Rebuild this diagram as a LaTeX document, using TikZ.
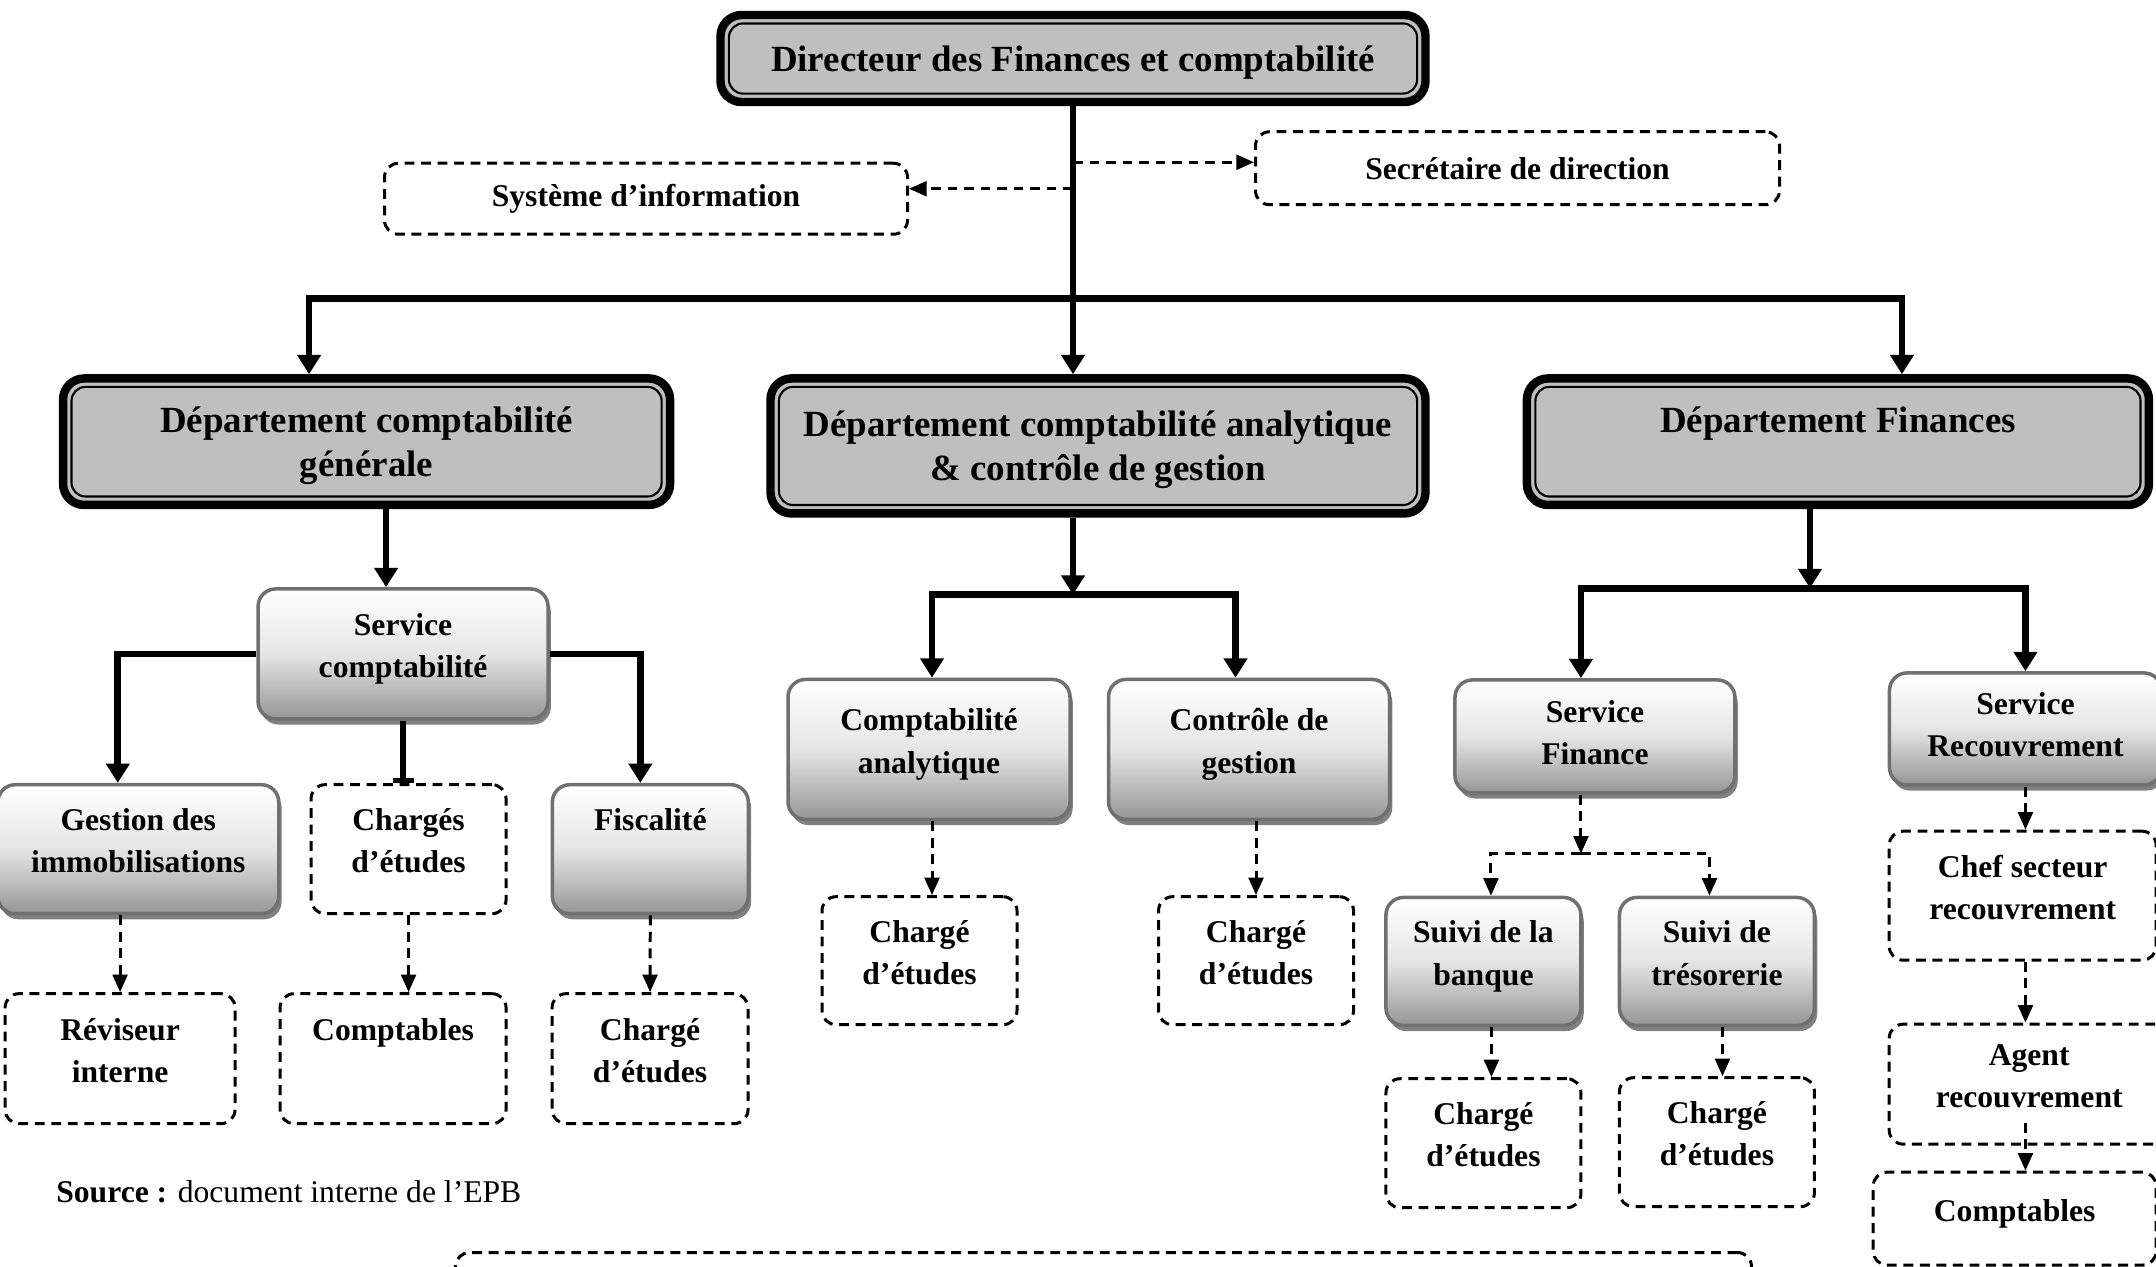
\documentclass[tikz,border=0pt]{standalone}
\usepackage{fontspec}
\setmainfont{Liberation Serif}
\usepackage{tikz}
\usetikzlibrary{
  arrows.meta,
  positioning,
  shadows,
  calc
}
\usepackage{xcolor}
\definecolor{deptgray} {RGB}{191, 191, 191}
\definecolor{edgegray} {RGB}{112, 112, 112}
\definecolor{shadegray}{RGB}{150, 150, 150}
\tikzset{
  deptbox/.style={
    draw=black, line width=2.4pt, fill=deptgray, rounded corners=6pt,
    align=center, inner sep=2pt, text depth=0pt,
    font=\fontsize{10.5}{12.5}\selectfont\bfseries,
    path picture={
      \draw[line width=0.6pt, rounded corners=4pt]
        ([shift={(2.4pt,2.4pt)}]path picture bounding box.south west) rectangle
        ([shift={(-2.4pt,-2.4pt)}]path picture bounding box.north east);
    }
  },
  svcbox/.style={
    draw=edgegray, line width=1pt, rounded corners=5pt,
    top color=white, bottom color=shadegray, middle color=black!10,
    drop shadow={shadow xshift=0.8pt, shadow yshift=-1.6pt,
                 fill=black!55, opacity=0.9},
    align=center, inner sep=2pt, text depth=0.17cm,
    font=\fontsize{9}{12}\selectfont\bfseries
  },
  dashbox/.style={
    draw=black, line width=0.85pt, dash pattern=on 2.8pt off 1.9pt,
    rounded corners=4pt, fill=white, align=center, inner sep=2pt,
    font=\fontsize{9}{12}\selectfont\bfseries
  },
  raised/.style={text depth=0.17cm},
  link/.style={
    line width=1.9pt, -{Triangle[length=5.5pt,width=6.5pt]}
  },
  dlink/.style={
    line width=0.85pt, dash pattern=on 2.8pt off 1.9pt,
    -{Triangle[length=5pt,width=4.2pt]}
  },
}

\begin{document}
\begin{tikzpicture}[node distance=2.0cm]

\useasboundingbox (0,0) rectangle (21.56,-12.66);

% ── Direction ─────────────────────────────────────────────────────────────────
\node[deptbox, minimum width=7.05cm, minimum height=0.87cm] (dir)
  at (10.73,-0.585) {Directeur des Finances et comptabilité};

\node[dashbox, minimum width=5.23cm, minimum height=0.71cm,
      below left=0.925cm and 1.64cm of dir.south, anchor=east] (sys)
  {Système d’information};

\node[dashbox, minimum width=5.24cm, minimum height=0.73cm,
      below right=0.62cm and 1.81cm of dir.south, anchor=west] (sec)
  {Secrétaire de direction};

% ── Three departments ─────────────────────────────────────────────────────────
\node[deptbox, minimum width=6.55cm, minimum height=1.35cm,
      below=2.68cm of dir, xshift=0.25cm] (dca)
  {Département comptabilité analytique\\\& contrôle de gestion};

\node[deptbox, minimum width=6.07cm, minimum height=1.265cm,
      left=0.92cm of dca.north west, anchor=north east] (dcg)
  {Département comptabilité\\générale};

\node[deptbox, minimum width=6.22cm, minimum height=1.265cm,
      right=0.93cm of dca.north east, anchor=north west] (df)
  {Département Finances\\\mbox{}};

% ── Comptabilité générale ─────────────────────────────────────────────────────
\node[svcbox, minimum width=2.9cm, minimum height=1.3cm,
      below=0.78cm of dcg, xshift=0.365cm] (svccpt)
  {Service\\comptabilité};

\node[dashbox, raised, minimum width=1.95cm, minimum height=1.29cm,
      below=0.625cm of svccpt, xshift=0.055cm] (charges)
  {Chargés\\d’études};

\node[svcbox, minimum width=2.81cm, minimum height=1.29cm,
      left=0.29cm of charges] (gestion)
  {Gestion des\\immobilisations};

\node[svcbox, minimum width=1.96cm, minimum height=1.29cm,
      right=0.43cm of charges] (fisc)
  {Fiscalité\\\mbox{}};

\node[dashbox, raised, minimum width=2.26cm, minimum height=1.3cm,
      below=0.77cm of charges, xshift=-0.155cm] (cptg)
  {Comptables\\\mbox{}};

\node[dashbox, raised, minimum width=2.3cm, minimum height=1.3cm,
      left=0.42cm of cptg] (revis)
  {Réviseur\\interne};

\node[dashbox, raised, minimum width=1.96cm, minimum height=1.3cm,
      right=0.43cm of cptg] (chfisc)
  {Chargé\\d’études};

% ── Comptabilité analytique & contrôle de gestion ─────────────────────────────
\node[svcbox, minimum width=2.82cm, minimum height=1.4cm,
      below=1.6cm of dca, xshift=-1.69cm] (cana)
  {Comptabilité\\analytique};

\node[svcbox, minimum width=2.81cm, minimum height=1.4cm,
      right=0.35cm of cana] (cgest)
  {Contrôle de\\gestion};

\node[dashbox, raised, minimum width=1.95cm, minimum height=1.28cm,
      below=0.74cm of cana, xshift=-0.095cm] (chana)
  {Chargé\\d’études};

\node[dashbox, raised, minimum width=1.95cm, minimum height=1.28cm,
      below=0.74cm of cgest, xshift=0.07cm] (chgest)
  {Chargé\\d’études};

% ── Finances ──────────────────────────────────────────────────────────────────
\node[svcbox, text depth=0.08cm, minimum width=2.8cm, minimum height=1.13cm,
      below=1.69cm of df, xshift=-2.43cm] (sfin)
  {Service\\Finance};

\node[svcbox, text depth=0.08cm, minimum width=2.72cm, minimum height=1.12cm,
      right=1.51cm of sfin.north east, anchor=north west, yshift=0.07cm] (srec)
  {Service\\Recouvrement};

\node[svcbox, minimum width=1.95cm, minimum height=1.28cm,
      below=1.01cm of sfin, xshift=-1.115cm] (banq)
  {Suivi de la\\banque};

\node[svcbox, minimum width=1.95cm, minimum height=1.28cm,
      right=0.35cm of banq] (treso)
  {Suivi de\\trésorerie};

\node[dashbox, raised, minimum width=1.95cm, minimum height=1.29cm,
      below=0.5cm of banq] (chbanq)
  {Chargé\\d’études};

\node[dashbox, raised, minimum width=1.95cm, minimum height=1.29cm,
      below=0.49cm of treso] (chtreso)
  {Chargé\\d’études};

\node[dashbox, raised, minimum width=2.67cm, minimum height=1.29cm,
      below=0.43cm of srec.south west, anchor=north west] (chef)
  {Chef secteur\\recouvrement};

\node[dashbox, raised, minimum width=2.8cm, minimum height=1.2cm,
      below=0.61cm of chef.south west, anchor=north west] (agent)
  {Agent\\recouvrement};

\node[dashbox, raised, minimum width=2.83cm, minimum height=0.93cm,
      below=0.25cm of agent.south west, anchor=north west, xshift=-0.16cm] (cptr)
  {Comptables};

% ── Source and next box ───────────────────────────────────────────────────────
\node[font=\fontsize{9}{11}\selectfont, inner sep=0pt,
      below right=0.67cm and 0.52cm of revis.south west, anchor=west] (src)
  {\textbf{Source :} document interne de l’EPB};

\node[dashbox, minimum width=12.96cm, minimum height=1cm,
      anchor=north west] (suite) at (4.54,-12.51) {};

% ── Arrows: direction ─────────────────────────────────────────────────────────
\coordinate (bus) at ([yshift=-1.92cm]dir.south);

\draw[link] (dir.south) -- (dir.south |- dca.north);
\draw[link] (bus) -| ([xshift=-0.575cm]dcg.north);
\draw[link] (bus) -| ([xshift=0.64cm]df.north);

\draw[dlink] ([yshift=0.06cm]sec.west -| dir.south) -- ([yshift=0.06cm]sec.west);
\draw[dlink] ([yshift=0.1cm]sys.east -| dir.south) -- ([yshift=0.1cm]sys.east);

% ── Arrows: comptabilité générale ─────────────────────────────────────────────
\draw[link] ([xshift=-0.17cm]svccpt.north |- dcg.south) -- ([xshift=-0.17cm]svccpt.north);
\draw[link] (svccpt.west) -| ([xshift=-0.205cm]gestion.north);
\draw[link] (svccpt.east) -| ([xshift=-0.1cm]fisc.north);
\draw[line width=1.9pt, -{Bar[width=6pt,line width=1.6pt]}]
  (svccpt.south) -- (svccpt.south |- charges.north);

\draw[dlink] (gestion.south -| revis.north) -- (revis.north);
\draw[dlink] (charges.south) -- (charges.south |- cptg.north);
\draw[dlink] (fisc.south) -- (chfisc.north);

% ── Arrows: comptabilité analytique ───────────────────────────────────────────
\coordinate (bus2) at ([yshift=-0.77cm]dca.south -| dir.south);

\draw[link] (dca.south -| dir.south) -- (bus2);
\draw[link] (bus2) -| ([xshift=0.03cm]cana.north);
\draw[link] (bus2) -| ([xshift=-0.135cm]cgest.north);

\draw[dlink] ([xshift=0.03cm]cana.south) -- ([xshift=0.03cm]cana.south |- chana.north);
\draw[dlink] (cgest.south -| chgest.north) -- (chgest.north);

% ── Arrows: finances ──────────────────────────────────────────────────────────
\coordinate (bus3) at ([xshift=-0.28cm, yshift=-0.79cm]df.south);

\draw[link] (bus3 |- df.south) -- (bus3);
\draw[link] (bus3) -| ([xshift=-0.14cm]sfin.north);
\draw[link] (bus3) -| (srec.north);

\coordinate (bus4) at ([xshift=-0.14cm, yshift=-0.59cm]sfin.south);

\draw[dlink] (bus4 |- sfin.south) -- (bus4);
\draw[dlink] (bus4) -| ([xshift=0.075cm]banq.north);
\draw[dlink] (bus4) -| ([xshift=-0.075cm]treso.north);

\draw[dlink] ([xshift=0.08cm]banq.south) -- ([xshift=0.08cm]banq.south |- chbanq.north);
\draw[dlink] ([xshift=0.055cm]treso.south) -- ([xshift=0.055cm]treso.south |- chtreso.north);

\draw[dlink] (srec.south) -- (srec.south |- chef.north);
\draw[dlink] (chef.south -| srec.south) -- (srec.south |- agent.north);
\draw[dlink] ([yshift=0.23cm]agent.south -| srec.south) -- (srec.south |- cptr.north);

\end{tikzpicture}
\end{document}
